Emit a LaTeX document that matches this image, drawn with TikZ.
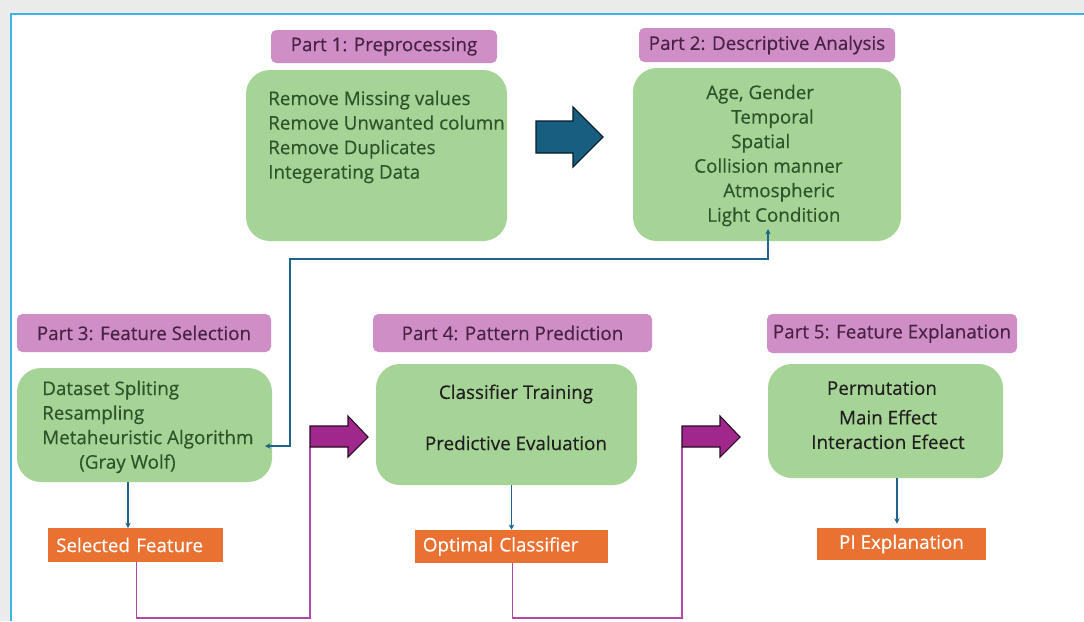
\documentclass[tikz,border=0pt]{standalone}
\usepackage{fontspec}
\setmainfont[FakeBold=0.35]{Open Sans}
\usepackage{tikz}
\usetikzlibrary{arrows.meta,positioning}
\definecolor{tagpink}{RGB}{207,143,198}
\definecolor{tagtext}{RGB}{72,34,68}
\definecolor{stagegreen}{RGB}{166,212,150}
\definecolor{stagetext}{RGB}{44,84,40}
\definecolor{outorange}{RGB}{233,113,50}
\definecolor{linkblue}{RGB}{30,100,140}
\definecolor{bigblue}{RGB}{24,94,128}
\definecolor{bigpurple}{RGB}{160,40,140}
\definecolor{feedpurple}{RGB}{180,70,170}
\definecolor{frameblue}{RGB}{60,180,230}

\begin{document}
\begin{tikzpicture}[x=0.75pt,y=-0.75pt,
      every node/.style={font=\fontsize{14.1}{18.4}\selectfont},
      parttag/.style={fill=tagpink,rounded corners=4pt,text=tagtext,inner sep=0pt},
      stagebox/.style={fill=stagegreen,rounded corners=18pt,inner sep=0pt},
      items/.style={text=stagetext,align=left,inner sep=0pt},
      darkitems/.style={text=black!88,align=center,inner sep=0pt},
      outbox/.style={fill=outorange,text=white,inner sep=0pt,minimum height=25pt},
      link/.style={draw=linkblue,line width=0.9pt,-{Stealth[length=4pt,width=4pt]}},
      feed/.style={draw=feedpurple,line width=1pt},
      fatarrow/.style={draw=black!75!bigpurple,fill=bigpurple,line width=0.8pt}]
  \useasboundingbox (0,0) rectangle (1084,621);
  % frame
  \fill[black!8] (0,0) rectangle (1084,621);
  \fill[white] (11,14) rectangle (1084,621);
  \draw[frameblue,line width=2pt] (11,621) -- (11,14) -- (1084,14);

  % part 1 and part 2
  \node[parttag,minimum width=169.5pt,minimum height=24.75pt] (tag1) at (384,46.5) {Part 1: Preprocessing};
  \node[stagebox,minimum width=195.75pt,minimum height=128.25pt] (prep) at (376.5,155.5) {};
  \node[items,anchor=north west] (prepitems) at (268,90.5) {Remove Missing values\\Remove Unwanted column\\Remove Duplicates\\Integerating Data};

  \node[parttag,minimum width=192pt,minimum height=25.5pt] (tag2) at (767,45) {Part 2: Descriptive Analysis};
  \node[stagebox,minimum width=201pt,minimum height=129.75pt] (desc) at (767,154.5) {};
  \node[items,anchor=north west] (descitems) at (694,84.5) {\hspace*{9pt}Age, Gender\\\hspace*{27.75pt}Temporal\\\hspace*{27.75pt}Spatial\\Collision manner\\\hspace*{21.75pt}Atmospheric\\\hspace*{9.75pt}Light Condition};

  \draw[draw=black!70!bigblue,fill=bigblue,line width=0.8pt] (536,153) -- ++(0,-32) -- ++(37,0) -- ++(0,-14)
    -- ++(30,30) -- ++(-30,30) -- ++(0,-14) -- cycle;

  % part 3
  \node[parttag,minimum width=190.5pt,minimum height=28.5pt] (tag3) at (144,333) {Part 3: Feature Selection};
  \node[stagebox,minimum width=191.25pt,minimum height=85.5pt] (featsel) at (144.5,425) {};
  \node[items,anchor=north west] (featitems) at (42,380.5) {Dataset Spliting\\Resampling\\Metaheuristic Algorithm\\\hspace*{27.75pt}(Gray Wolf)};
  \node[outbox,minimum width=131.25pt,text width=119pt,align=left] (selfeat) at (135.5,545) {Selected Feature};

  % part 4
  \node[parttag,minimum width=209.25pt,minimum height=28.5pt] (tag4) at (512.5,333) {Part 4: Pattern Prediction};
  \node[stagebox,minimum width=195.75pt,minimum height=90.75pt] (predict) at (506.5,424.5) {};
  \node[darkitems] (predtrain) at (516,394) {Classifier Training};
  \node[darkitems] (predeval) at (516,443) {Predictive Evaluation};
  \node[outbox,minimum width=144.75pt,minimum height=24.75pt,text width=133pt,align=left] (optclf) at (511.5,546.5) {Optimal Classifier};

  % part 5
  \node[parttag,minimum width=187.5pt,minimum height=29.25pt] (tag5) at (892,333.5) {Part 5: Feature Explanation};
  \node[stagebox,minimum width=176.25pt,minimum height=85.5pt] (explain) at (885.5,421) {};
  \node[darkitems] (explperm) at (882,388) {Permutation};
  \node[darkitems] (explmain) at (888,429.5) {Main Effect\\Interaction Efeect};
  \node[outbox,minimum width=126.75pt,minimum height=24pt] (piexpl) at (901.5,544) {PI Explanation};

  % connectors
  \coordinate (fbin) at (265,446);
  \coordinate (fbup) at (768,229);
  \draw[link,{Stealth[length=4pt,width=4pt]}-{Stealth[length=4pt,width=4pt]}] (fbin) -- (290,446) -- (290,259) -| (fbup);

  \draw[link] ([xshift=-5.6pt]selfeat.north |- featsel.south) -- ([xshift=-5.6pt]selfeat.north);
  \draw[link] (optclf.north |- predict.south) -- (optclf.north);
  \draw[link] ([xshift=-3.4pt]piexpl.north |- explain.south) -- ([xshift=-3.4pt,yshift=3pt]piexpl.north);

  \foreach \tail/\from in {310/selfeat,682/optclf}{
    \draw[feed] ([xshift=0.5pt]\from.south) -- ([xshift=0.5pt]\from.south |- 0,618) -- (\tail,618) -- (\tail,447);
    \draw[fatarrow] (\tail,447) -- ++(0,-21) -- ++(38,0) -- ++(0,-10) -- ++(20,21) -- ++(-20,20) -- ++(0,-10) -- cycle;
  }
\end{tikzpicture}
\end{document}
